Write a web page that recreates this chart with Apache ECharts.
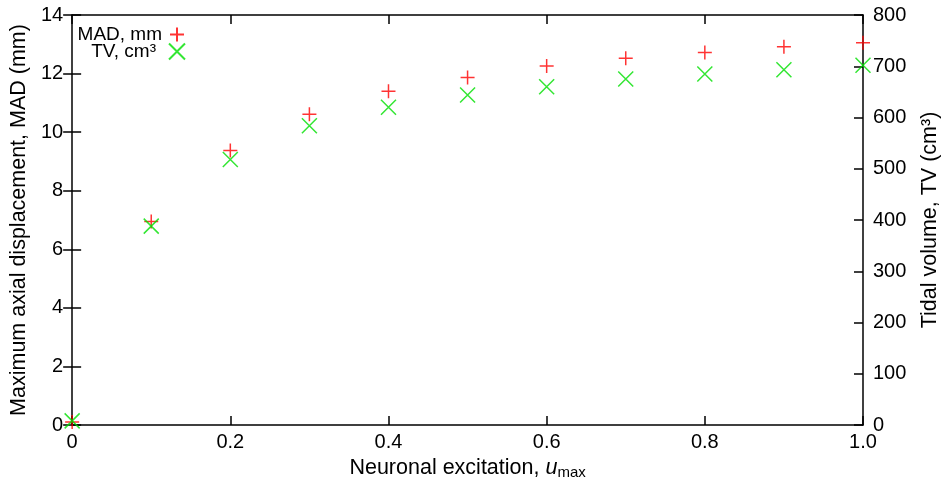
<!DOCTYPE html>
<html><head><meta charset="utf-8">
<script src="https://cdn.jsdelivr.net/npm/echarts@6/dist/echarts.min.js"></script>
<style>html,body{margin:0;padding:0;background:#fff;overflow:hidden}#c{width:949px;height:485px}</style>
</head><body><div id="c"></div>
<script>
const excitation = [0, 0.1, 0.2, 0.3, 0.4, 0.5, 0.6, 0.7, 0.8, 0.9, 1.0];
const madMm = [0.1, 6.95, 9.37, 10.61, 11.40, 11.87, 12.26, 12.52, 12.72, 12.92, 13.05];
const tvCm3 = [8, 388, 518, 584, 620, 644, 660, 675, 685, 693, 702];
const xTicks = [0, 0.2, 0.4, 0.6, 0.8, 1.0];
const madName = 'MAD, mm';
const tvName = 'TV, cm\u00b3';

const FONT = 'Liberation Sans';
const TICK = 20;
const TITLE = 21.5;
const plus = 'path://M0,5 L10,5 M5,0 L5,10';
const cross = 'path://M0,0 L10,10 M10,0 L0,10';
const lineStyle = {color: '#000', width: 1.5};
const chart = echarts.init(document.getElementById('c'));
chart.setOption({
  animation: false,
  textStyle: {fontFamily: FONT},
  grid: {left: 72, right: 81, top: 15, bottom: 60, show: false},
  legend: [
    {data: [madName], right: 764, top: 25, align: 'right', orient: 'vertical',
     itemWidth: 14, itemHeight: 14, itemGap: 2, padding: 0,
     textStyle: {fontFamily: FONT, fontSize: 19, color: '#000', padding: [0, 3, 0, 0]}},
    {data: [tvName], right: 763, top: 42, align: 'right', orient: 'vertical',
     itemWidth: 16, itemHeight: 16, itemGap: 2, padding: 0,
     textStyle: {fontFamily: FONT, fontSize: 19, color: '#000', padding: [0, 8, 0, 0]}}
  ],
  xAxis: [
    {type: 'value', min: 0, max: 1, interval: 0.2, position: 'bottom',
     axisLine: {show: true, onZero: false, lineStyle},
     axisTick: {show: true, inside: true, length: 9, lineStyle},
     splitLine: {show: false},
     axisLabel: {fontFamily: FONT, fontSize: TICK, color: '#000', margin: 7,
       formatter: v => (v === 1 ? '1.0' : String(+v.toFixed(1)))},
     name: 'Neuronal excitation, {i|u}{sub|max}', nameLocation: 'middle', nameGap: 31,
     nameTextStyle: {fontFamily: FONT, fontSize: TITLE, color: '#000',
       rich: {i: {fontFamily: FONT, fontSize: TITLE, fontStyle: 'italic', color: '#000'},
              sub: {fontFamily: FONT, fontSize: 15, color: '#000', verticalAlign: 'bottom', padding: [9, 0, 0, 0]}}}},
    {type: 'value', min: 0, max: 1, interval: 0.2, position: 'top',
     axisLine: {show: true, onZero: false, lineStyle},
     axisTick: {show: true, inside: true, length: 9, lineStyle},
     splitLine: {show: false}, axisLabel: {show: false}}
  ],
  yAxis: [
    {type: 'value', min: 0, max: 14, interval: 2, position: 'left',
     axisLine: {show: true, onZero: false, lineStyle},
     axisTick: {show: true, inside: true, length: 9, lineStyle},
     splitLine: {show: false},
     axisLabel: {fontFamily: FONT, fontSize: TICK, color: '#000', margin: 9},
     name: 'Maximum axial displacement, MAD (mm)', nameLocation: 'middle', nameGap: 39,
     nameTextStyle: {fontFamily: FONT, fontSize: TITLE, color: '#000'}},
    {type: 'value', min: 0, max: 800, interval: 100, position: 'right',
     axisLine: {show: true, onZero: false, lineStyle},
     axisTick: {show: true, inside: true, length: 9, lineStyle},
     splitLine: {show: false},
     axisLabel: {fontFamily: FONT, fontSize: TICK, color: '#000', margin: 10},
     name: 'Tidal volume, TV (cm\u00b3)', nameLocation: 'middle', nameGap: 56, nameRotate: 90,
     nameTextStyle: {fontFamily: FONT, fontSize: TITLE, color: '#000'}},
    {type: 'value', min: 0, max: 14, interval: 2, position: 'right',
     axisLine: {show: false},
     axisTick: {show: true, inside: true, length: 9, lineStyle},
     splitLine: {show: false}, axisLabel: {show: false}}
  ],
  series: [
    {name: madName, type: 'scatter', xAxisIndex: 0, yAxisIndex: 0,
     data: excitation.map((x, i) => [x, madMm[i]]),
     symbol: plus, symbolSize: 14,
     itemStyle: {color: 'rgba(0,0,0,0)', borderColor: '#ff0000', borderWidth: 1.5}},
    {name: tvName, type: 'scatter', xAxisIndex: 0, yAxisIndex: 1,
     data: excitation.map((x, i) => [x, tvCm3[i]]),
     symbol: cross, symbolSize: 15,
     itemStyle: {color: 'rgba(0,0,0,0)', borderColor: '#00e000', borderWidth: 1.5}}
  ]
});
</script></body></html>
